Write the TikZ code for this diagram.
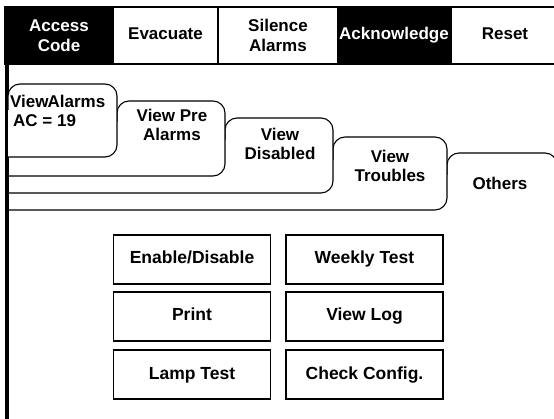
\documentclass[tikz,border=0pt]{standalone}
\usepackage{fontspec}
\setmainfont{Liberation Sans}
\tikzset{
	barkey/.style={draw=black, line width=1.6pt, minimum height=57pt, inner sep=0pt, align=center, font=\fontsize{17}{19}\selectfont\bfseries},
	barkeyon/.style={barkey, fill=black, text=white},
	tabline/.style={draw=black, line width=1.1pt, rounded corners=12pt, fill=white},
	tabtext/.style={align=center, inner sep=0pt, font=\fontsize{17}{19}\selectfont\bfseries},
	menubtn/.style={draw=black, line width=1.3pt, minimum width=157pt, minimum height=49pt, inner sep=0pt, text height=12.5pt, text depth=3.5pt, font=\fontsize{17.5}{19}\selectfont\bfseries}
}
\begin{document}
\begin{tikzpicture}[x=1pt, y=-1pt]
		\useasboundingbox (0,0) rectangle (554,419);

		% key bar
		\node[barkeyon, minimum width=108pt] (access) at (59,35.5) {};
		\node[text=white, align=center, inner sep=0pt, font=\fontsize{17}{20}\selectfont\bfseries] (accesstxt) at (access.center) {Access\\Code};
		\node[barkey, minimum width=105pt, text height=12pt, text depth=3pt] (evac) at (165.5,35.5) {Evacuate};
		\node[barkey, minimum width=120pt] (silence) at (278,35.5) {};
		\node[align=center, inner sep=0pt, font=\fontsize{17}{20}\selectfont\bfseries] (silencetxt) at (silence.center) {Silence\\Alarms};
		\node[barkeyon, minimum width=113pt, text height=12pt, text depth=3pt] (ack) at (394.5,35.5) {\kern-1pt Acknowledge};
		\node[barkey, minimum width=108pt, text height=12pt, text depth=3pt] (reset) at (505,35.5) {Reset};

		\draw[line width=4pt] (7,64) -- (7,419);

		% tabs, back to front
		\draw[tabline] (447,175) -- (447,153) -- (557,153) -- (557,240);
		\draw[tabline] (8,210) -- (447,210) -- (447,137) -- (333,137) -- (333,160);
		\draw[tabline] (8,193) -- (333,193) -- (333,118) -- (225,118) -- (225,140);
		\draw[tabline] (8,176) -- (225,176) -- (225,101) -- (117,101) -- (117,122);
		\draw[tabline] (8,157) -- (117,157) -- (117,84) -- (8,84) -- (8,110);

		\node[tabtext, align=left, anchor=north west] (tabalarms) at (10,95) {View\kern-1ptAlarms\\[0pt]\kern3pt AC = 19};
		\node[tabtext] (tabpre) at (172,125) {View Pre\\Alarms};
		\node[tabtext] (tabdis) at (280,144) {View\\Disabled};
		\node[tabtext] (tabtrou) at (390,166) {View\\Troubles};
		\node[tabtext] (tabother) at (500,183) {Others};

		% menu buttons
		\node[menubtn] (enable) at (192,259.5) {Enable/Disable};
		\node[menubtn] (weekly) at (364.5,259.5) {Weekly Test};
		\node[menubtn] (print) at (192,316.5) {Print};
		\node[menubtn] (viewlog) at (364.5,316.5) {View Log};
		\node[menubtn] (lamp) at (192,374.5) {Lamp Test};
		\node[menubtn] (check) at (364.5,374.5) {Check Config.};

	\end{tikzpicture}
\end{document}
